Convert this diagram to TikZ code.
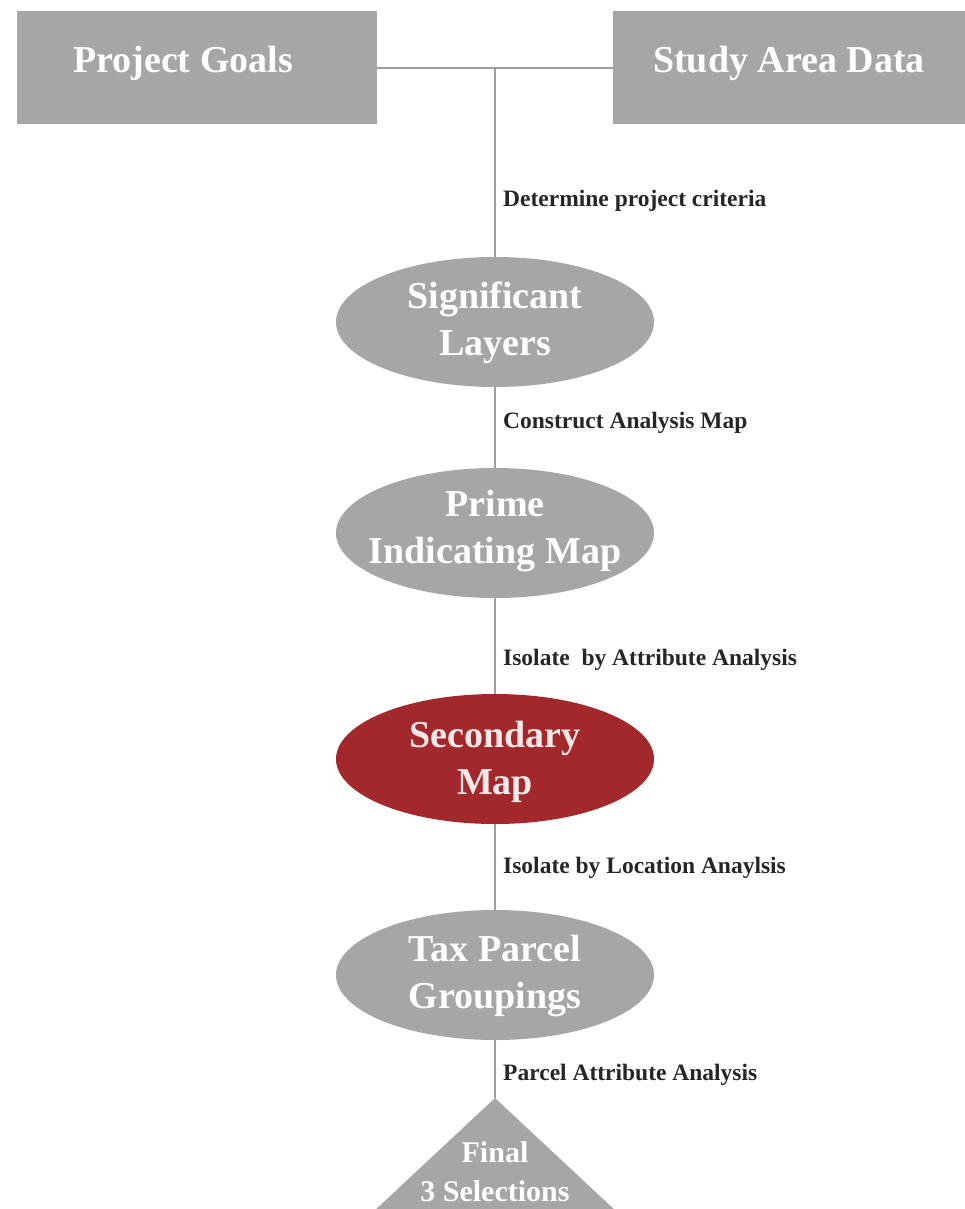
\documentclass[tikz,border=0pt]{standalone}
\usepackage{fontspec}
\setmainfont{Liberation Serif}
\usetikzlibrary{shapes.geometric}
\definecolor{shapegray}{RGB}{166,166,166}
\definecolor{linegray}{RGB}{158,158,158}
\definecolor{mapred}{RGB}{162,40,43}
\definecolor{redtext}{RGB}{250,232,232}
\definecolor{labelink}{RGB}{38,38,38}
\begin{document}
\begin{tikzpicture}[x=1pt,y=-1pt,
  rectbox/.style={rectangle, fill=shapegray, minimum width=360pt, minimum height=113pt, inner sep=0pt},
  bigtext/.style={text=white, inner sep=0pt, font=\fontsize{38}{47}\selectfont\bfseries, align=center},
  ovalbox/.style={ellipse, fill=shapegray, minimum width=318pt, minimum height=130pt, inner sep=0pt},
  steplabel/.style={anchor=base west, inner sep=0pt, text=labelink, font=\fontsize{23.5}{28}\selectfont\bfseries},
  link/.style={draw=linegray, line width=1.5pt}]
\useasboundingbox (0,0) rectangle (965,1209);
\clip (0,0) rectangle (965,1209);
\fill[white] (0,0) rectangle (965,1209);

% top boxes
\node[rectbox] (goals) at (197,68) {};
\node[bigtext] (goalstxt) at (183,63) {Project Goals};
\node[rectbox] (study) at (793,68) {};
\node[bigtext] (studytxt) at (789,63) {Study Area Data};
\coordinate (junction) at (495,68);

% ellipses
\node[ovalbox] (sig) at (495,322) {};
\node[bigtext] (sigtxt) at (495,323) {Significant\\Layers};
\node[ovalbox] (prime) at (495,533) {};
\node[bigtext] (primetxt) at (495,531) {Prime\\Indicating Map};
\node[ovalbox, fill=mapred] (sec) at (495,759) {};
\node[bigtext, text=redtext] (sectxt) at (495,762) {Secondary\\Map};
\node[ovalbox] (tax) at (495,975) {};
\node[bigtext] (taxtxt) at (495,976) {Tax Parcel\\Groupings};

% triangle
\coordinate (apex) at (495,1098);
\fill[shapegray] (apex) -- (372,1213) -- (618,1213) -- cycle;
\node[text=white, inner sep=0pt, font=\fontsize{30}{39}\selectfont\bfseries, align=center] (final) at (495,1172) {Final\\3 Selections};

% connectors
\draw[link] (goals.east) -- (study.west);
\draw[link] (junction) -- (sig.north);
\draw[link] (sig.south) -- (prime.north);
\draw[link] (prime.south) -- (sec.north);
\draw[link] (sec.south) -- (tax.north);
\draw[link] (tax.south) -- (apex);

% step labels
\node[steplabel] (l1) at (503,206) {Determine project criteria};
\node[steplabel] (l2) at (503,428) {Construct Analysis Map};
\node[steplabel] (l3) at (503,665) {Isolate\ \ by Attribute Analysis};
\node[steplabel] (l4) at (503,873) {Isolate by Location Anaylsis};
\node[steplabel] (l5) at (503,1080) {Parcel Attribute Analysis};
\end{tikzpicture}
\end{document}
